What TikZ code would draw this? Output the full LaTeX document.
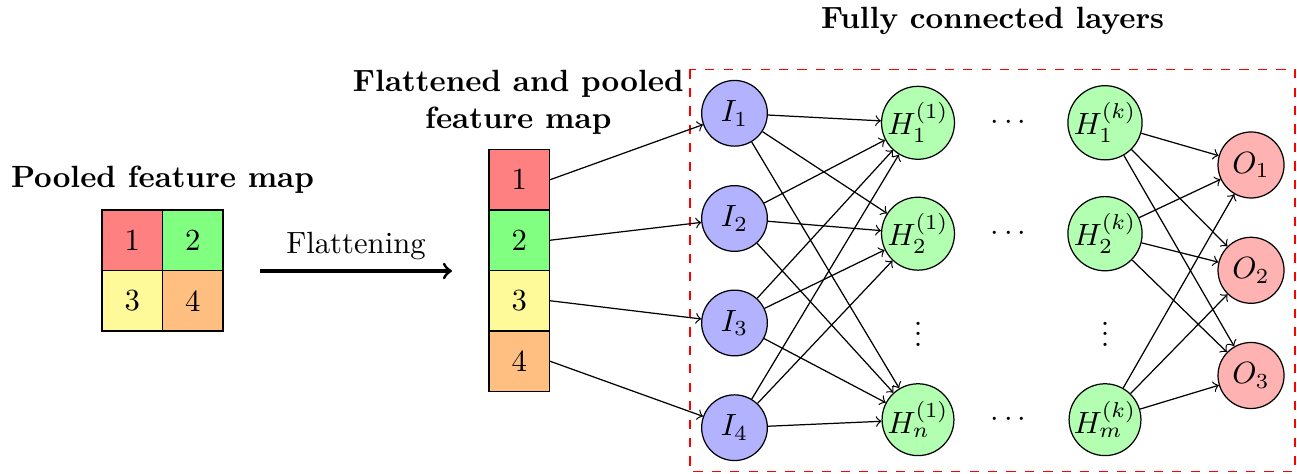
\documentclass[tikz,border=0pt]{standalone}
\usetikzlibrary{arrows}
% three closely spaced vertical dots
\newcommand{\tightvdots}{\vbox{\baselineskip3.4pt\lineskiplimit0pt\hbox{.}\hbox{.}\hbox{.}}}
\begin{document}
\begin{tikzpicture}[x=0.3257pt, y=-0.3257pt,
  cell/.style={draw, inner sep=0pt, minimum width=19.7pt, minimum height=19.7pt},
  inneuron/.style={circle, draw, fill=blue!30, inner sep=0pt, minimum size=21.4pt},
  hidneuron/.style={circle, draw, fill=green!30, inner sep=0pt, minimum size=23.4pt},
  outneuron/.style={circle, draw, fill=red!30, inner sep=0pt, minimum size=21.5pt},
  title/.style={font=\bfseries, anchor=base, inner sep=0pt},
  conn/.style={->}]
\useasboundingbox (0,0) rectangle (1297,474);

% dashed frame around the fully connected part
\draw[red, dashed] (690,69.5) rectangle (1295,471.5);

% titles
\node[title] (tpool) at (162.5,188) {Pooled feature map};
\node[font=\bfseries, align=center, anchor=south, inner sep=0pt] (tflat) at (518.3,135.3) {Flattened and pooled\\feature map};
\node[title] (tfc) at (992.5,28.3) {Fully connected layers};

% 2x2 pooled feature map
\node[cell, fill=red!50]    (g1) at (132.2,240.3) {1};
\node[cell, fill=green!50]  (g2) at (192.7,240.3) {2};
\node[cell, fill=yellow!40] (g3) at (132.2,300.8) {3};
\node[cell, fill=orange!50] (g4) at (192.7,300.8) {4};

% flattening arrow
\coordinate (fa) at (260,271);
\coordinate (fb) at (452,271);
\draw[->, line width=1pt] (fa) -- (fb);
\node[anchor=base, inner sep=0pt] (tflatten) at (356,253.3) {Flattening};

% flattened column
\node[cell, fill=red!50]    (c1) at (519.2,179.75) {1};
\node[cell, fill=green!50]  (c2) at (519.2,240.25) {2};
\node[cell, fill=yellow!40] (c3) at (519.2,300.75) {3};
\node[cell, fill=orange!50] (c4) at (519.2,361.25) {4};

% input layer
\node[inneuron] (I1) at (734.5,113.3) {$I_1$};
\node[inneuron] (I2) at (734.5,218.5) {$I_2$};
\node[inneuron] (I3) at (734.5,323)   {$I_3$};
\node[inneuron] (I4) at (734.5,427.7) {$I_4$};

% first hidden layer
\node[hidneuron] (Ha1) at (918,122.8) {$H_1^{(1)}$};
\node[hidneuron] (Ha2) at (918,233.7) {$H_2^{(1)}$};
\node[hidneuron] (Han) at (918,419.7) {$H_n^{(1)}$};

% last hidden layer
\node[hidneuron] (Hb1) at (1105,122.8) {$H_1^{(k)}$};
\node[hidneuron] (Hb2) at (1105,233.7) {$H_2^{(k)}$};
\node[hidneuron] (Hbm) at (1105,419.7) {$H_m^{(k)}$};

% output layer
\node[outneuron] (O1) at (1251,165)   {$O_1$};
\node[outneuron] (O2) at (1251,270.3) {$O_2$};
\node[outneuron] (O3) at (1251,375.5) {$O_3$};

% ellipses
\node[inner sep=0pt] (dh1) at (1008.5,122.8) {$\cdots$};
\node[inner sep=0pt] (dh2) at (1008.5,233.7) {$\cdots$};
\node[inner sep=0pt] (dh3) at (1008.5,419.7) {$\cdots$};
\node[inner sep=0pt] (dv1) at (918,334)  {\tightvdots};
\node[inner sep=0pt] (dv2) at (1105,334) {\tightvdots};

% column to input layer
\foreach \i in {1,...,4}
  \draw[conn] (c\i.east) -- (I\i);

% input layer to first hidden layer
\foreach \i in {1,...,4}
  \foreach \j in {1,2,n}
    \draw[conn] (I\i) -- (Ha\j);

% last hidden layer to output layer
\foreach \j in {1,2,m}
  \foreach \o in {1,2,3}
    \draw[conn] (Hb\j) -- (O\o);
\end{tikzpicture}
\end{document}
